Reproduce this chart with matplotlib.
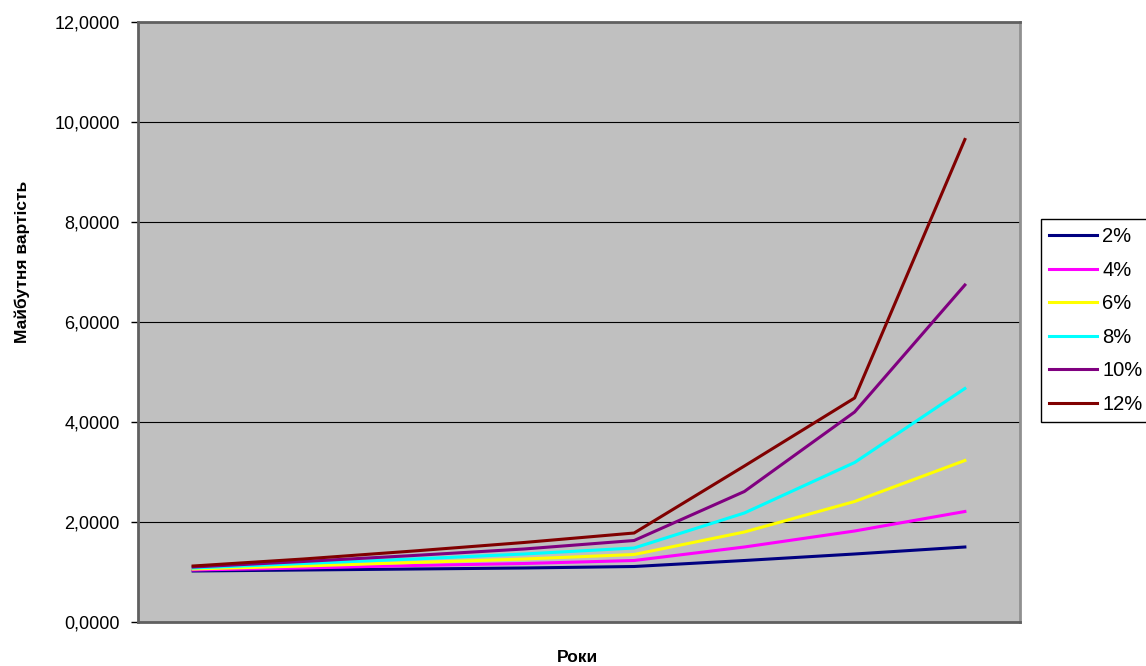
import matplotlib
matplotlib.use('Agg')
import matplotlib.pyplot as plt
from matplotlib.ticker import FuncFormatter

plt.rcParams['font.family'] = ['Liberation Sans', 'DejaVu Sans']

# Years (category axis, no labels shown on the chart)
years = ['1', '2', '3', '4', '5', '10', '15', '20']

rate_labels = ['2%', '4%', '6%', '8%', '10%', '12%']
rate_colors = ['#000080', '#FF00FF', '#FFFF00', '#00FFFF', '#800080', '#800000']

fv_2 = [1.02, 1.04, 1.06, 1.08, 1.11, 1.23, 1.36, 1.50]
fv_4 = [1.04, 1.08, 1.13, 1.17, 1.23, 1.50, 1.82, 2.21]
fv_6 = [1.06, 1.12, 1.19, 1.26, 1.35, 1.80, 2.41, 3.23]
fv_8 = [1.08, 1.17, 1.26, 1.36, 1.48, 2.18, 3.19, 4.67]
fv_10 = [1.10, 1.21, 1.33, 1.46, 1.63, 2.61, 4.20, 6.74]
fv_12 = [1.12, 1.26, 1.42, 1.59, 1.78, 3.12, 4.48, 9.65]

series = [fv_2, fv_4, fv_6, fv_8, fv_10, fv_12]

fig = plt.figure(figsize=(11.46, 6.66), dpi=100)
ax = fig.add_axes([138 / 1146, 44 / 666, 882 / 1146, 600 / 666])
ax.set_facecolor('#C0C0C0')

x = range(len(years))
for values, label, color in zip(series, rate_labels, rate_colors):
    ax.plot(x, values, color=color, linewidth=2.2, label=label, zorder=3)

ax.set_xlim(-0.5, len(years) - 0.5)
ax.set_ylim(0, 12)
ax.set_yticks(range(0, 13, 2))
ax.yaxis.set_major_formatter(FuncFormatter(lambda v, p: '{0:.4f}'.format(v).replace('.', ',')))
ax.set_xticks([])
ax.tick_params(axis='y', length=5, width=1, pad=8, labelsize=13, color='black')
ax.grid(axis='y', color='black', linewidth=0.8, zorder=1)

for side in ['left', 'bottom', 'top']:
    ax.spines[side].set_color('#606060')
    ax.spines[side].set_linewidth(2)
ax.spines['right'].set_color('#909090')
ax.spines['right'].set_linewidth(2)

fig.text(578 / 1146, 1 - 657 / 666, 'Роки', ha='center', va='center',
         fontsize=12.5, fontweight='bold')
fig.text(22 / 1146, 1 - 343 / 666, 'Майбутня вартість', ha='center', va='bottom',
         rotation=90, fontsize=12.5, fontweight='bold')

leg = fig.legend(loc='upper left', bbox_to_anchor=(1041 / 1146, 1 - 219 / 666),
                 bbox_transform=fig.transFigure, borderaxespad=0,
                 fontsize=14.5, handlelength=2.4, handletextpad=0.25,
                 labelspacing=0.72, borderpad=0.4, fancybox=False,
                 framealpha=1, edgecolor='black')
leg.get_frame().set_linewidth(1)

fig.savefig('out.png', dpi=100)
